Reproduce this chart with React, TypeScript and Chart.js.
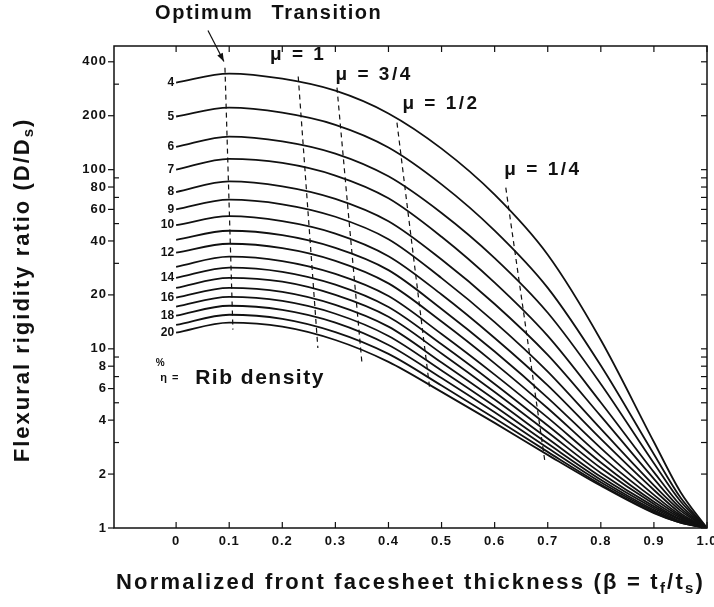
import { useEffect, useRef } from "react";
import { Chart, registerables } from "chart.js";

Chart.register(...registerables);

// ---------- DATA ----------
// Normalized front facesheet thickness (beta) sample points
const BETA = [0, 0.1, 0.2, 0.3, 0.4, 0.5, 0.6, 0.7, 0.8, 0.9, 0.95, 1.0];
// Rib density eta (%) for each curve
const RIB_DENSITY = [4, 5, 6, 7, 8, 9, 10, 11, 12, 13, 14, 15, 16, 17, 18, 19, 20];
// Flexural rigidity ratio D/Ds for each rib density
const eta4 = [306, 344, 322, 276, 206, 131, 72.5, 33.5, 11.2, 3.02, 1.59, 1];
const eta5 = [198, 222, 208, 178, 133, 82.8, 45.7, 21.9, 8.07, 2.58, 1.48, 1];
const eta6 = [134, 153, 144, 123, 91.8, 57.3, 32.1, 15.9, 6.37, 2.3, 1.41, 1];
const eta7 = [100, 115, 109, 92.7, 69.2, 42.2, 23.4, 11.8, 5.02, 2.05, 1.34, 1];
const eta8 = [75, 86, 80.7, 68.7, 51.5, 31.5, 17.8, 9.25, 4.21, 1.88, 1.29, 1];
const eta9 = [60, 68, 64.1, 54.6, 40.9, 24.8, 14.1, 7.46, 3.57, 1.73, 1.25, 1];
const eta10 = [49, 55, 51.6, 44.0, 32.9, 20.1, 11.5, 6.25, 3.14, 1.63, 1.21, 1];
const eta11 = [40.6, 45.6, 43.1, 36.6, 27.5, 16.7, 9.66, 5.33, 2.79, 1.53, 1.18, 1];
const eta12 = [34.4, 38.6, 36.5, 31.0, 23.2, 14.2, 8.3, 4.66, 2.52, 1.46, 1.16, 1];
const eta13 = [28.7, 32.7, 30.9, 26.2, 19.7, 12.1, 7.18, 4.13, 2.32, 1.4, 1.14, 1];
const eta14 = [24.9, 28.4, 26.9, 22.8, 17.1, 10.6, 6.37, 3.73, 2.16, 1.36, 1.12, 1];
const eta15 = [21.9, 24.9, 23.7, 20.0, 15.1, 9.42, 5.74, 3.42, 2.03, 1.32, 1.11, 1];
const eta16 = [19.3, 21.9, 20.8, 17.6, 13.3, 8.39, 5.21, 3.16, 1.93, 1.29, 1.09, 1];
const eta17 = [17.2, 19.5, 18.5, 15.7, 11.8, 7.57, 4.78, 2.96, 1.86, 1.26, 1.08, 1];
const eta18 = [15.3, 17.4, 16.5, 14.0, 10.5, 6.87, 4.42, 2.8, 1.8, 1.24, 1.08, 1];
const eta19 = [13.6, 15.5, 14.7, 12.4, 9.37, 6.24, 4.1, 2.66, 1.75, 1.22, 1.07, 1];
const eta20 = [12.3, 14.0, 13.3, 11.2, 8.46, 5.75, 3.86, 2.56, 1.72, 1.21, 1.07, 1];
const RIGIDITY = [eta4, eta5, eta6, eta7, eta8, eta9, eta10, eta11, eta12, eta13, eta14, eta15, eta16, eta17, eta18, eta19, eta20];
// Curves that carry a label at their left end
const LABELED_ETAS = [4, 5, 6, 7, 8, 9, 10, 12, 14, 16, 18, 20];

// Dashed optimum / transition lines (beta, ratio) end points
const optimumBeta = [0.092, 0.107];
const optimumRatio = [371, 12.8];
const mu1Beta = [0.23, 0.267];
const mu1Ratio = [331, 10.1];
const mu34Beta = [0.303, 0.35];
const mu34Ratio = [287, 8.35];
const mu12Beta = [0.416, 0.478];
const mu12Ratio = [183, 5.9];
const mu14Beta = [0.621, 0.695];
const mu14Ratio = [79.3, 2.31];

// Axis ticks
const X_TICK_VALUES = [0, 0.1, 0.2, 0.3, 0.4, 0.5, 0.6, 0.7, 0.8, 0.9, 1.0];
const X_TICK_LABELS = ["0", "0.1", "0.2", "0.3", "0.4", "0.5", "0.6", "0.7", "0.8", "0.9", "1.0"];
const Y_TICK_VALUES = [1, 2, 3, 4, 5, 6, 7, 8, 9, 10, 20, 30, 40, 50, 60, 70, 80, 90, 100, 200, 300, 400];
const Y_TICK_LABELS = ["1", "2", "4", "6", "8", "10", "20", "40", "60", "80", "100", "200", "400"];

// ---------- DRAWING HELPERS ----------
const FONT = "'Liberation Sans', Arial, Helvetica, sans-serif";
const INK = "#111";

type Part = { t: string; size: number; dy?: number };

function drawRich(ctx: CanvasRenderingContext2D, parts: Part[], x: number, y: number, rotate: boolean, spacing: string) {
  ctx.save();
  ctx.translate(x, y);
  if (rotate) ctx.rotate(-Math.PI / 2);
  (ctx as any).letterSpacing = spacing;
  ctx.textBaseline = "middle";
  ctx.textAlign = "left";
  const widths = parts.map((p) => {
    ctx.font = `bold ${p.size}px ${FONT}`;
    return ctx.measureText(p.t).width;
  });
  const total = widths.reduce((a, b) => a + b, 0);
  let cx = -total / 2;
  parts.forEach((p, i) => {
    ctx.font = `bold ${p.size}px ${FONT}`;
    ctx.fillText(p.t, cx, p.dy || 0);
    cx += widths[i];
  });
  ctx.restore();
}

function seg(ctx: CanvasRenderingContext2D, x1: number, y1: number, x2: number, y2: number) {
  ctx.beginPath();
  ctx.moveTo(x1, y1);
  ctx.lineTo(x2, y2);
  ctx.stroke();
}

const decorPlugin = {
  id: "decor",
  afterDraw(chart: any) {
    const { ctx, chartArea: a } = chart;
    const xs = chart.scales.x;
    const ys = chart.scales.y;
    const px = (b: number) => xs.getPixelForValue(b);
    const py = (r: number) => ys.getPixelForValue(r);
    ctx.save();
    ctx.fillStyle = INK;
    ctx.strokeStyle = INK;

    // frame
    ctx.lineWidth = 1.5;
    ctx.strokeRect(a.left, a.top, a.right - a.left, a.bottom - a.top);

    // x ticks + labels
    ctx.lineWidth = 1.2;
    ctx.font = `bold 13px ${FONT}`;
    (ctx as any).letterSpacing = "1px";
    ctx.textAlign = "center";
    ctx.textBaseline = "top";
    X_TICK_VALUES.forEach((v, i) => {
      const x = px(v);
      seg(ctx, x, a.bottom, x, a.bottom - 6);
      seg(ctx, x, a.top, x, a.top + 6);
      ctx.fillText(X_TICK_LABELS[i], x, a.bottom + 7);
    });

    // y ticks + labels
    ctx.textAlign = "right";
    ctx.textBaseline = "middle";
    Y_TICK_VALUES.forEach((v) => {
      const y = py(v);
      const label = String(v);
      const major = Y_TICK_LABELS.includes(label);
      if (major) {
        seg(ctx, a.left - 6, y, a.left, y);
        ctx.fillText(label, a.left - 7, y);
      } else {
        seg(ctx, a.left, y, a.left + 5, y);
      }
      seg(ctx, a.right - 6, y, a.right, y);
    });
    (ctx as any).letterSpacing = "0px";

    // curve labels at left end of each curve
    ctx.font = `bold 12px ${FONT}`;
    ctx.textAlign = "right";
    ctx.textBaseline = "middle";
    LABELED_ETAS.forEach((eta) => {
      const idx = RIB_DENSITY.indexOf(eta);
      const pt = chart.getDatasetMeta(idx).data[0];
      ctx.fillText(String(eta), pt.x - 2, pt.y);
    });

    // annotations
    drawRich(ctx, [{ t: "Optimum", size: 20 }], px(0.053), py(745), false, "1.5px");
    drawRich(ctx, [{ t: "Transition", size: 20 }], px(0.284), py(745), false, "1.5px");
    drawRich(ctx, [{ t: "μ = 1", size: 19 }], px(0.23), py(439), false, "2.5px");
    drawRich(ctx, [{ t: "μ = 3/4", size: 19 }], px(0.373), py(340), false, "2.5px");
    drawRich(ctx, [{ t: "μ = 1/2", size: 19 }], px(0.499), py(234), false, "2.5px");
    drawRich(ctx, [{ t: "μ = 1/4", size: 19 }], px(0.691), py(100), false, "2.5px");
    drawRich(ctx, [{ t: "%", size: 10 }], px(-0.03), py(8.35), false, "0px");
    drawRich(ctx, [{ t: "η =", size: 11 }], px(-0.012), py(6.9), false, "1px");
    drawRich(ctx, [{ t: "Rib density", size: 21 }], px(0.158), py(6.89), false, "1.5px");

    // arrow to optimum
    const ax1 = px(0.06), ay1 = py(598), ax2 = px(0.09), ay2 = py(401);
    ctx.lineWidth = 1.2;
    seg(ctx, ax1, ay1, ax2, ay2);
    const ang = Math.atan2(ay2 - ay1, ax2 - ax1);
    ctx.beginPath();
    ctx.moveTo(ax2, ay2);
    ctx.lineTo(ax2 - 9 * Math.cos(ang - 0.35), ay2 - 9 * Math.sin(ang - 0.35));
    ctx.lineTo(ax2 - 9 * Math.cos(ang + 0.35), ay2 - 9 * Math.sin(ang + 0.35));
    ctx.closePath();
    ctx.fill();

    // axis titles
    drawRich(
      ctx,
      [
        { t: "Normalized front facesheet thickness (β = t", size: 22 },
        { t: "f", size: 15, dy: 6 },
        { t: "/t", size: 22 },
        { t: "s", size: 15, dy: 6 },
        { t: ")", size: 22 },
      ],
      (a.left + a.right) / 2,
      583,
      false,
      "2.2px"
    );
    drawRich(
      ctx,
      [
        { t: "Flexural rigidity ratio (D/D", size: 22 },
        { t: "s", size: 15, dy: 6 },
        { t: ")", size: 22 },
      ],
      23,
      290,
      true,
      "2px"
    );
    ctx.restore();
  },
};

function dashed(beta: number[], ratio: number[]) {
  return {
    data: beta.map((b, i) => ({ x: b, y: ratio[i] })),
    borderColor: INK,
    borderWidth: 1.2,
    borderDash: [5, 4],
    pointRadius: 0,
    fill: false,
    tension: 0,
  };
}

export default function App() {
  const canvasRef = useRef<HTMLCanvasElement | null>(null);

  useEffect(() => {
    const canvas = canvasRef.current;
    if (!canvas) return;
    const curveSets = RIGIDITY.map((vals) => ({
      data: BETA.map((b, j) => ({ x: b, y: vals[j] })),
      borderColor: INK,
      borderWidth: 1.8,
      pointRadius: 0,
      fill: false,
      cubicInterpolationMode: "monotone" as const,
    }));
    const chart = new Chart(canvas, {
      type: "line",
      data: {
        datasets: [
          ...curveSets,
          dashed(optimumBeta, optimumRatio),
          dashed(mu1Beta, mu1Ratio),
          dashed(mu34Beta, mu34Ratio),
          dashed(mu12Beta, mu12Ratio),
          dashed(mu14Beta, mu14Ratio),
        ] as any,
      },
      options: {
        animation: false,
        responsive: false,
        maintainAspectRatio: false,
        layout: { padding: { left: 0, right: 7, top: 46, bottom: 0 } },
        plugins: { legend: { display: false }, tooltip: { enabled: false } },
        scales: {
          x: {
            type: "linear",
            min: -0.117,
            max: 1.0,
            ticks: { display: false },
            grid: { display: false },
            border: { display: false },
            afterFit: (s: any) => {
              s.height = 79;
            },
          },
          y: {
            type: "logarithmic",
            min: 1,
            max: 490,
            ticks: { display: false },
            grid: { display: false },
            border: { display: false },
            afterFit: (s: any) => {
              s.width = 114;
            },
          },
        },
      },
      plugins: [decorPlugin],
    });
    return () => chart.destroy();
  }, []);

  return (
    <div style={{ position: "absolute", left: 0, top: 0, width: 714, height: 607, background: "#fff" }}>
      <canvas ref={canvasRef} width={714} height={607} style={{ display: "block", width: 714, height: 607 }} />
    </div>
  );
}
